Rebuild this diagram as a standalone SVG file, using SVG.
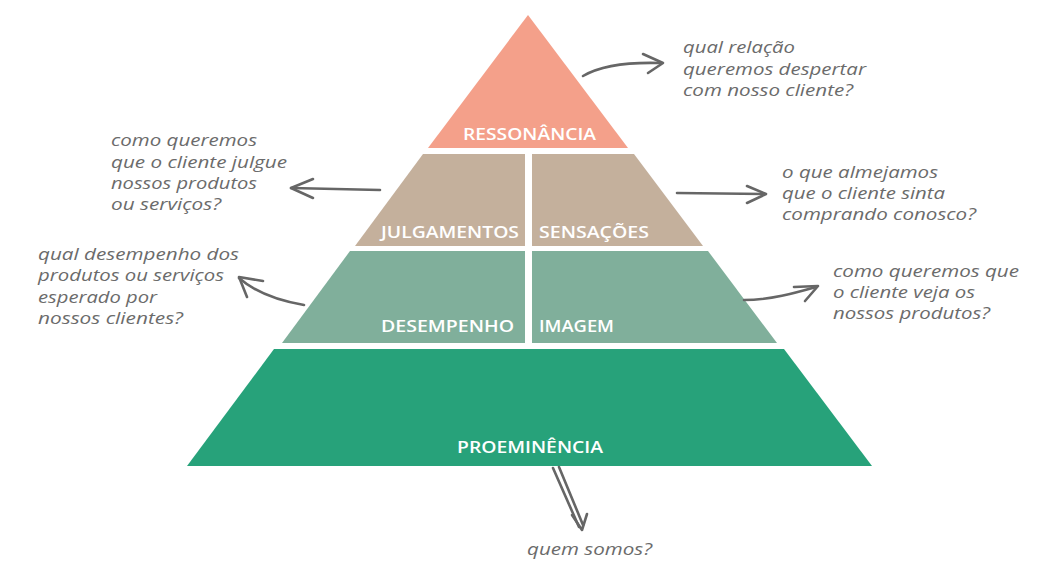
<svg xmlns="http://www.w3.org/2000/svg" width="1050" height="587" viewBox="0 0 1050 587">
<style>
.q{font-family:"Open Sans","Liberation Sans",sans-serif;font-style:italic;font-size:17px;fill:#6b6b6b;}
.lb{font-family:"Open Sans","Liberation Sans",sans-serif;font-weight:600;font-size:17px;fill:#ffffff;}
.ar{fill:none;stroke:#666;stroke-width:2.6;stroke-linecap:round;stroke-linejoin:round;}
</style>
<rect width="1050" height="587" fill="#ffffff"/>
<g id="ressonancia">
<polygon points="528,15 628,148 428,148" fill="#F4A08A"/>
<text class="lb" x="463" y="140" textLength="133" lengthAdjust="spacingAndGlyphs">RESSONÂNCIA</text>
</g>
<g id="julgamentos">
<polygon points="423,154 525,154 525,246 355,246" fill="#C4B09C"/>
<text class="lb" x="381" y="238" textLength="138" lengthAdjust="spacingAndGlyphs">JULGAMENTOS</text>
</g>
<g id="sensacoes">
<polygon points="532,154 634,154 703,246 532,246" fill="#C4B09C"/>
<text class="lb" x="539" y="238" textLength="110" lengthAdjust="spacingAndGlyphs">SENSAÇÕES</text>
</g>
<g id="desempenho">
<polygon points="350,251 525,251 525,343 282,343" fill="#80AF9B"/>
<text class="lb" x="381" y="332" textLength="133" lengthAdjust="spacingAndGlyphs">DESEMPENHO</text>
</g>
<g id="imagem">
<polygon points="532,251 708,251 777,343 532,343" fill="#80AF9B"/>
<text class="lb" x="539" y="332" textLength="75" lengthAdjust="spacingAndGlyphs">IMAGEM</text>
</g>
<g id="proeminencia">
<polygon points="274,349 784,349 872,466 187,466" fill="#27A27A"/>
<text class="lb" x="457" y="453" textLength="146" lengthAdjust="spacingAndGlyphs">PROEMINÊNCIA</text>
</g>
<g id="connectors">
<path class="ar" d="M583,76 C600,66 625,62 660,63"/>
<path class="ar" d="M643,54 L663,63 L648,73"/>
<path class="ar" d="M380,190 L291,188"/>
<path class="ar" d="M313,179 L291,188 L313,198"/>
<path class="ar" d="M677,193 L764,194"/>
<path class="ar" d="M747,186 L766,194 L747,203"/>
<path class="ar" d="M304,305 C280,301 255,292 239,278"/>
<path class="ar" d="M263,281 L239,277 L247,297"/>
<path class="ar" d="M744,300 C770,300 795,293 816,287"/>
<path class="ar" d="M794,287 L818,286 L805,301"/>
<path class="ar" d="M553,468 L579,527 M559,467 L583,525"/>
<path class="ar" d="M572,515 L582,530 L587,514"/>
</g>
<g id="q-ressonancia">
<text class="q" x="683" y="53" textLength="112" lengthAdjust="spacingAndGlyphs">qual relação</text>
<text class="q" x="683" y="75" textLength="183" lengthAdjust="spacingAndGlyphs">queremos despertar</text>
<text class="q" x="683" y="96" textLength="170" lengthAdjust="spacingAndGlyphs">com nosso cliente?</text>
</g>
<g id="q-julgamentos">
<text class="q" x="111" y="146" textLength="146" lengthAdjust="spacingAndGlyphs">como queremos</text>
<text class="q" x="111" y="168" textLength="176" lengthAdjust="spacingAndGlyphs">que o cliente julgue</text>
<text class="q" x="111" y="189" textLength="146" lengthAdjust="spacingAndGlyphs">nossos produtos</text>
<text class="q" x="111" y="210" textLength="110" lengthAdjust="spacingAndGlyphs">ou serviços?</text>
</g>
<g id="q-sensacoes">
<text class="q" x="782" y="178" textLength="156" lengthAdjust="spacingAndGlyphs">o que almejamos</text>
<text class="q" x="782" y="199" textLength="163" lengthAdjust="spacingAndGlyphs">que o cliente sinta</text>
<text class="q" x="782" y="220" textLength="194" lengthAdjust="spacingAndGlyphs">comprando conosco?</text>
</g>
<g id="q-desempenho">
<text class="q" x="38" y="260" textLength="201" lengthAdjust="spacingAndGlyphs">qual desempenho dos</text>
<text class="q" x="38" y="281" textLength="186" lengthAdjust="spacingAndGlyphs">produtos ou serviços</text>
<text class="q" x="38" y="303" textLength="119" lengthAdjust="spacingAndGlyphs">esperado por</text>
<text class="q" x="38" y="324" textLength="145" lengthAdjust="spacingAndGlyphs">nossos clientes?</text>
</g>
<g id="q-imagem">
<text class="q" x="833" y="277" textLength="186" lengthAdjust="spacingAndGlyphs">como queremos que</text>
<text class="q" x="833" y="298" textLength="142" lengthAdjust="spacingAndGlyphs">o cliente veja os</text>
<text class="q" x="833" y="319" textLength="157" lengthAdjust="spacingAndGlyphs">nossos produtos?</text>
</g>
<g id="q-proeminencia">
<text class="q" x="527" y="555" textLength="125" lengthAdjust="spacingAndGlyphs">quem somos?</text>
</g>
</svg>
